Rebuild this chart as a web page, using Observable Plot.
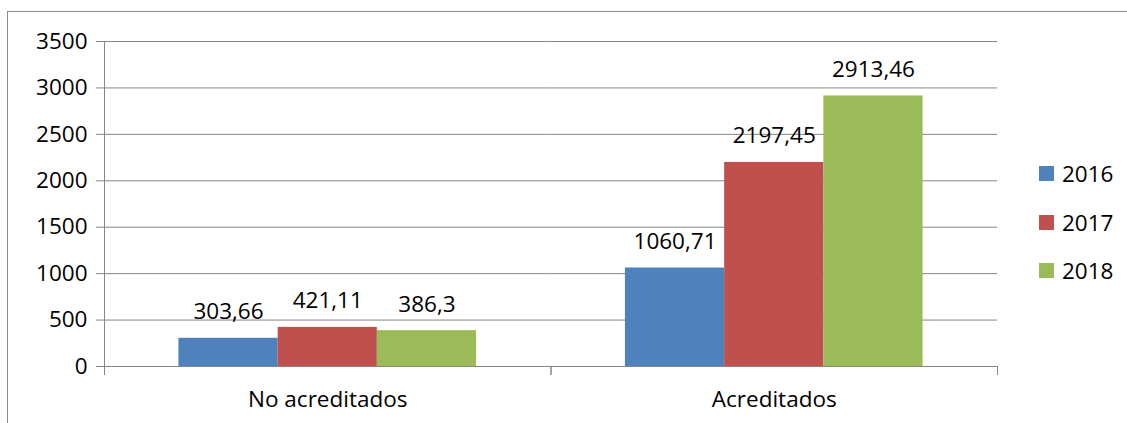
<!DOCTYPE html>
<html>
<head>
<meta charset="utf-8">
<script src="https://cdn.jsdelivr.net/npm/d3@7"></script>
<script src="https://cdn.jsdelivr.net/npm/@observablehq/plot@0.6"></script>
<style>
  html, body { margin: 0; padding: 0; background: #fff; overflow: hidden; width: 1127px; height: 423px; }
  #wrap { position: relative; width: 1127px; height: 423px; font-family: "Open Sans", sans-serif; }
  #border { position: absolute; left: 7px; top: 11px; width: 1200px; height: 500px; border: 1.5px solid #8a8a8a; box-sizing: border-box; }
  #chart { position: absolute; left: 0; top: 0; }
  #legend { position: absolute; left: 1039px; top: 0; }
  .item { position: absolute; left: 0; display: flex; align-items: center; white-space: nowrap; font-size: 22.5px; color: #000; height: 30px; }
  .sw { width: 15px; height: 15px; margin-right: 8px; }
</style>
</head>
<body>
<div id="wrap">
  <div id="border"></div>
  <div id="chart"></div>
  <div id="legend"></div>
</div>
<script>
const categories = ["No acreditados", "Acreditados"];
const years = ["2016", "2017", "2018"];
const noAcreditados = [303.66, 421.11, 386.3];
const acreditados = [1060.71, 2197.45, 2913.46];
const colors = ["#4F81BD", "#C0504D", "#9BBB59"];
const yTicks = [0, 500, 1000, 1500, 2000, 2500, 3000, 3500];

const series = [noAcreditados, acreditados];
const data = [];
categories.forEach((c, i) => years.forEach((y, j) => data.push({category: c, year: y, value: series[i][j]})));

const fmt = v => String(v).replace(".", ",");
const gray = "#868686";
const fs = 22.5;

const chart = Plot.plot({
  width: 1127,
  height: 423,
  marginLeft: 104,
  marginRight: 130,
  marginTop: 41,
  marginBottom: 57,
  style: {fontFamily: "Open Sans", fontSize: fs + "px", color: "#000", background: "transparent"},
  fx: {domain: categories, padding: 0, round: false, axis: null, label: null},
  x: {domain: years, paddingInner: 0, paddingOuter: 0.75, round: false, axis: null, label: null},
  y: {domain: [0, 3500], axis: null, label: null},
  color: {domain: years, range: colors},
  marks: [
    Plot.gridY(yTicks, {stroke: gray, strokeOpacity: 1, strokeWidth: 1}),
    Plot.barY(data, {fx: "category", x: "year", y: "value", fill: "year"}),
    Plot.text(data, {fx: "category", x: "year", y: "value", text: d => fmt(d.value), lineAnchor: "bottom", dy: -19, fill: "#000", fontSize: fs}),
    Plot.ruleY([0], {stroke: gray, strokeWidth: 1}),
    Plot.frame({anchor: "left", facetAnchor: "left", insetBottom: -8, stroke: gray, strokeWidth: 1}),
    Plot.frame({anchor: "left", insetTop: 325, insetBottom: -8, stroke: gray, strokeWidth: 1}),
    Plot.frame({anchor: "right", insetTop: 325, insetBottom: -8, stroke: gray, strokeWidth: 1}),
    Plot.axisY(yTicks, {anchor: "left", label: null, tickSize: 8, tickPadding: 9, stroke: gray, fill: "#000", fontSize: fs, tickFormat: d => String(d)}),
    Plot.axisFx({anchor: "bottom", label: null, tickSize: 0, tickPadding: 25, fontSize: fs, fill: "#000"})
  ]
});
document.getElementById("chart").appendChild(chart);

const legend = document.getElementById("legend");
const centers = [173.5, 222.5, 270.5];
years.forEach((y, i) => {
  const it = document.createElement("div");
  it.className = "item";
  it.style.top = (centers[i] - 15) + "px";
  it.innerHTML = `<div class="sw" style="background:${colors[i]}"></div><span>${y}</span>`;
  legend.appendChild(it);
});
</script>
</body>
</html>
